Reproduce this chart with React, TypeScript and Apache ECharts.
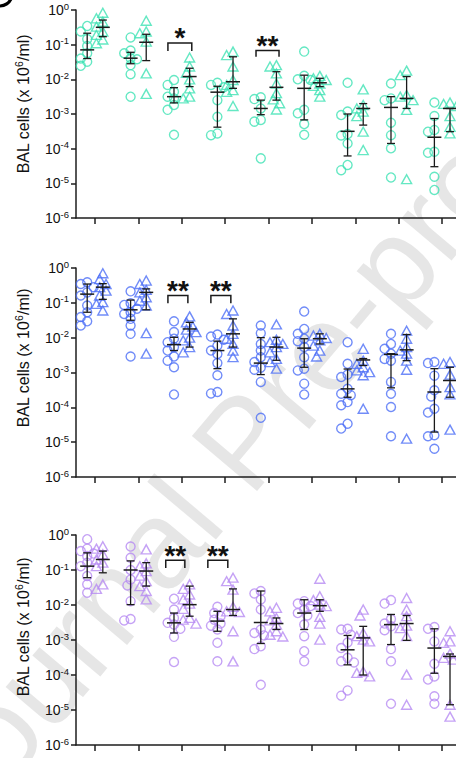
import { useEffect, useRef } from "react";
import * as echarts from "echarts";

// ---------- data (log10 of BAL cells x10^6/ml), 18 columns: [circle, triangle] for each of 9 groups ----------
const groupTicks = [1, 2, 3, 4, 5, 6, 7, 8, 9];
const yExponents = [-6, -5, -4, -3, -2, -1, 0];

const tealLog10: number[][] = [
  [-0.46, -0.62, -0.84, -1.04, -1.25, -1.4, -1.49, -1.61],
  [-0.08, -0.24, -0.34, -0.48, -0.62, -0.72, -0.85, -0.96],
  [-0.79, -1.17, -1.25, -1.39, -1.42, -1.59, -1.85, -2.5],
  [-0.31, -0.62, -0.67, -0.91, -1.83, -2.42],
  [-2.02, -2.16, -2.36, -2.5, -2.55, -2.74, -2.88, -3.6],
  [-1.37, -1.63, -1.81, -2.0, -2.26, -2.5, -2.55],
  [-2.1, -2.16, -2.23, -2.6, -3.08, -3.56, -3.61],
  [-1.2, -1.3, -1.63, -2.02, -2.16, -2.31, -2.36, -2.77],
  [-2.52, -2.57, -2.84, -3.17, -3.22, -4.28],
  [-1.59, -1.63, -1.83, -2.12, -2.4, -2.58, -2.69, -2.87],
  [-1.2, -1.9, -2.0, -2.02, -2.88, -2.98, -3.29, -3.6],
  [-1.9, -1.97, -2.02, -2.12, -2.19, -2.31, -2.5],
  [-2.1, -2.93, -3.03, -3.58, -3.62, -3.85, -4.47, -4.62],
  [-2.29, -2.74, -2.84, -2.93, -3.06, -3.51, -4.04],
  [-2.12, -2.55, -2.6, -3.25, -3.61, -3.99, -4.83],
  [-1.75, -1.88, -2.45, -2.5, -2.6, -2.88, -4.88],
  [-2.67, -3.06, -3.46, -3.51, -4.09, -4.12, -4.81, -5.19],
  [-2.67, -2.71, -2.77, -3.06, -3.37, -3.56],
];
// [median, low, high]
const tealStats: number[][] = [
  [-1.15, -1.4, -0.67], [-0.5, -0.77, -0.29], [-1.39, -1.55, -1.22], [-0.93, -1.46, -0.7],
  [-2.5, -2.68, -2.24], [-1.92, -2.21, -1.68], [-2.37, -3.38, -2.2], [-2.07, -2.26, -1.35],
  [-2.84, -3.02, -2.6], [-2.23, -2.6, -1.78], [-2.26, -3.17, -1.88], [-2.1, -2.21, -1.97],
  [-3.5, -4.21, -3.0], [-2.84, -3.32, -2.7], [-2.81, -3.85, -2.5], [-2.55, -2.84, -1.92],
  [-3.67, -4.52, -3.13], [-2.84, -3.51, -2.84],
];

const blueLog10: number[][] = [
  [-0.41, -0.46, -0.55, -0.7, -0.79, -1.08, -1.27, -1.41, -1.53, -1.65],
  [-0.15, -0.32, -0.46, -0.55, -0.65, -0.79, -0.98, -1.03, -1.22],
  [-0.67, -1.01, -1.06, -1.17, -1.27, -1.32, -1.46, -1.65, -1.89, -2.54],
  [-0.36, -0.46, -0.63, -0.7, -0.84, -0.94, -1.08, -1.87, -2.46],
  [-1.53, -1.84, -2.03, -2.13, -2.27, -2.37, -2.54, -2.66, -2.85, -3.63],
  [-1.39, -1.56, -1.68, -1.77, -1.84, -2.0, -2.08, -2.27, -2.42],
  [-1.91, -1.97, -2.06, -2.23, -2.37, -2.47, -2.73, -3.08, -3.56, -3.6],
  [-1.22, -1.32, -1.65, -1.89, -2.03, -2.18, -2.37, -2.56],
  [-1.65, -1.87, -2.18, -2.37, -2.56, -2.7, -2.86, -2.92, -3.27, -4.3],
  [-1.62, -2.06, -2.13, -2.18, -2.27, -2.42, -2.61, -2.7, -2.89],
  [-1.25, -1.75, -1.89, -2.03, -2.1, -2.27, -2.56, -2.89, -2.94, -3.32, -3.63],
  [-1.89, -1.94, -2.01, -2.08, -2.23, -2.37, -2.54],
  [-2.13, -2.75, -3.06, -3.13, -3.47, -3.61, -3.65, -3.85, -3.94, -4.47, -4.61],
  [-2.32, -2.66, -2.75, -2.85, -2.94, -2.99, -3.08, -4.04],
  [-1.89, -2.18, -2.32, -2.46, -2.61, -2.66, -3.27, -3.61, -3.99, -4.83],
  [-1.8, -2.03, -2.27, -2.37, -2.46, -2.66, -2.92, -4.9],
  [-2.7, -2.73, -3.09, -3.51, -3.69, -4.04, -4.15, -4.8, -4.83, -5.19],
  [-2.7, -2.75, -3.06, -3.42, -3.63, -4.64],
];
const blueStats: number[][] = [
  [-0.75, -1.27, -0.46], [-0.55, -0.9, -0.45], [-1.2, -1.5, -0.92], [-0.7, -1.2, -0.6],
  [-2.2, -2.37, -1.99], [-1.75, -2.27, -1.56], [-2.37, -2.89, -2.1], [-1.89, -2.27, -1.46],
  [-2.73, -3.06, -2.0], [-2.27, -2.65, -1.99], [-2.3, -2.85, -2.03], [-2.03, -2.18, -1.89],
  [-3.47, -3.71, -2.9], [-2.64, -2.8, -2.6], [-2.48, -3.44, -2.46], [-2.35, -2.66, -1.91],
  [-3.56, -4.71, -2.89], [-3.23, -3.71, -2.85],
];

const purpleLog10: number[][] = [
  [-0.12, -0.39, -0.46, -0.53, -0.6, -0.79, -0.89, -1.17, -1.41, -1.65],
  [-0.32, -0.39, -0.55, -0.7, -0.79, -0.89, -1.41, -1.54],
  [-0.33, -0.65, -1.0, -1.27, -1.44, -1.89, -2.4, -2.44],
  [-0.41, -0.81, -0.89, -1.03, -1.16, -1.32, -1.46, -1.6, -1.84],
  [-1.82, -2.13, -2.37, -2.51, -2.56, -2.68, -2.91, -3.63],
  [-1.41, -1.54, -1.7, -1.84, -1.96, -2.11, -2.37, -2.42, -2.53],
  [-2.05, -2.23, -2.32, -2.42, -2.53, -2.59, -2.7, -3.08, -3.61],
  [-1.22, -1.32, -1.56, -2.05, -2.18, -2.2, -2.75, -3.61],
  [-1.6, -1.67, -1.84, -2.13, -2.7, -2.8, -2.87, -3.18, -3.26, -4.28],
  [-2.08, -2.18, -2.37, -2.44, -2.56, -2.75, -2.85, -2.9],
  [-1.89, -1.96, -2.03, -2.13, -2.23, -2.3, -2.56, -2.89, -3.32, -3.61],
  [-1.25, -1.75, -1.86, -1.99, -2.03, -2.34, -2.53, -2.99],
  [-2.68, -2.7, -2.85, -3.07, -3.23, -3.51, -3.61, -3.64, -4.44, -4.59],
  [-2.13, -2.3, -2.8, -2.89, -2.99, -3.04, -3.9, -3.94, -4.04],
  [-1.86, -1.96, -2.4, -2.53, -2.61, -2.72, -3.26, -3.61, -4.82],
  [-1.8, -2.13, -2.32, -2.59, -2.66, -2.89, -3.99, -4.85],
  [-2.63, -2.68, -3.04, -3.68, -4.04, -4.13, -4.61, -4.82],
  [-2.75, -3.04, -3.08, -3.39, -3.51, -3.56, -4.85, -5.19],
];
const purpleStats: number[][] = [
  [-0.89, -1.22, -0.51], [-0.7, -1.08, -0.46], [-1.0, -1.99, -0.74], [-1.03, -1.46, -0.79],
  [-2.51, -2.8, -2.23], [-1.99, -2.32, -1.46], [-2.46, -2.75, -2.18], [-2.13, -2.3, -1.54],
  [-2.5, -3.1, -1.6], [-2.53, -2.7, -2.37], [-2.23, -2.7, -1.85], [-2.02, -2.18, -1.85],
  [-3.28, -3.71, -2.87], [-2.94, -4.0, -2.61], [-2.56, -3.13, -2.27], [-2.53, -3.01, -2.3],
  [-3.23, -3.95, -2.68], [-3.47, -4.85, -3.4],
];

// significance brackets: [xLeft, xRight, top(log10), legBottom(log10)]
const tealBrackets: number[][] = [[2.68, 3.23, -0.95, -1.18], [4.71, 5.24, -1.17, -1.35]];
const tealBracketLabels = ["*", "**"];
const blueBrackets: number[][] = [[2.68, 3.14, -0.79, -1.01], [3.67, 4.13, -0.79, -1.01]];
const blueBracketLabels = ["**", "**"];
const purpleBrackets: number[][] = [[2.63, 3.07, -0.72, -0.94], [3.6, 4.06, -0.72, -0.94]];
const purpleBracketLabels = ["**", "**"];

// ---------- layout / style ----------
const FONT = '"Liberation Sans", Arial, Helvetica, sans-serif';
const X_MIN = 0.562;
const X_MAX = 9.318;
const GRID_LEFT = 76;
const GRID_W = 380;
const PANELS = [
  { top: 10, height: 208, color: "#3ee2b4", log: tealLog10, stats: tealStats, br: tealBrackets, brl: tealBracketLabels, titleY: 104 },
  { top: 268, height: 209, color: "#4e6ff6", log: blueLog10, stats: blueStats, br: blueBrackets, brl: blueBracketLabels, titleY: 358 },
  { top: 535, height: 210, color: "#b68bf3", log: purpleLog10, stats: purpleStats, br: purpleBrackets, brl: purpleBracketLabels, titleY: 627 },
];
const AXIS_COLOR = "#1e1e1e";
const BAR_COLOR = "#1a1a1a";

function swarm(vals: number[], center: number, pxPerDecade: number): number[][] {
  const pxPerX = GRID_W / (X_MAX - X_MIN);
  const placed: { x: number; y: number }[] = [];
  const out: number[][] = [];
  const order = vals.map((_, i) => i).sort((a, b) => vals[b] - vals[a]);
  for (const i of order) {
    const y = -vals[i] * pxPerDecade;
    let best = 0;
    let bestD = -1;
    for (const k of [0, -1, 1, -2, 2]) {
      const dx = k * 3.2;
      let md = Infinity;
      for (const p of placed) md = Math.min(md, Math.hypot(p.x - dx, p.y - y));
      if (md >= 6.5) { best = dx; bestD = md; break; }
      if (md > bestD) { bestD = md; best = dx; }
    }
    placed.push({ x: best, y });
    out.push([center + best / pxPerX, vals[i]]);
  }
  return out;
}

function columnCenter(col: number): number {
  const g = Math.floor(col / 2);
  return groupTicks[g] + (col % 2 === 0 ? -0.18 : 0.18);
}

function buildOption(): any {
  const grid: any[] = [];
  const xAxis: any[] = [];
  const yAxis: any[] = [];
  const series: any[] = [];
  const graphic: any[] = [];

  PANELS.forEach((p, pi) => {
    grid.push({ left: GRID_LEFT, top: p.top, width: GRID_W, height: p.height });
    xAxis.push({
      type: "value", gridIndex: pi, min: X_MIN, max: X_MAX,
      axisLine: { show: true, onZero: false, lineStyle: { color: AXIS_COLOR, width: 1.5 } },
      axisTick: { show: true, customValues: groupTicks, length: 6, lineStyle: { color: AXIS_COLOR, width: 1.5 } },
      axisLabel: { show: false },
      splitLine: { show: false },
    });
    yAxis.push({
      type: "value", gridIndex: pi, min: -6, max: 0, interval: 1,
      axisLine: { show: true, lineStyle: { color: AXIS_COLOR, width: 1.5 } },
      axisTick: { show: true, length: 5, lineStyle: { color: AXIS_COLOR, width: 1.5 } },
      axisLabel: {
        margin: 7,
        formatter: (v: number) => (yExponents.includes(v) ? `{b|10}{s|${v}}` : ""),
        rich: {
          b: { fontFamily: FONT, fontSize: 14, color: "#111", lineHeight: 18 },
          s: { fontFamily: FONT, fontSize: 9.5, color: "#111", lineHeight: 9, verticalAlign: "top" },
        },
      },
      splitLine: { show: false },
    });

    const pxPerDecade = p.height / 6;
    const circles: number[][] = [];
    const triangles: number[][] = [];
    p.log.forEach((vals, col) => {
      const pts = swarm(vals, columnCenter(col), pxPerDecade);
      if (col % 2 === 0) circles.push(...pts);
      else triangles.push(...pts);
    });
    const markerStyle = { color: "rgba(255,255,255,0)", borderColor: p.color, borderWidth: 1.4 };
    series.push({
      type: "scatter", xAxisIndex: pi, yAxisIndex: pi, symbol: "circle", symbolSize: 9,
      itemStyle: markerStyle, data: circles, z: 3, clip: false,
    });
    series.push({
      type: "scatter", xAxisIndex: pi, yAxisIndex: pi, symbol: "triangle", symbolSize: [10, 9],
      itemStyle: markerStyle, data: triangles, z: 3, clip: false,
    });

    const statData = p.stats.map((s, col) => [columnCenter(col), s[0], s[1], s[2]]);
    series.push({
      type: "custom", xAxisIndex: pi, yAxisIndex: pi, z: 5, clip: false,
      encode: { x: 0, y: [1, 2, 3] },
      data: statData,
      renderItem: (_params: any, api: any) => {
        const x = api.value(0);
        const pm = api.coord([x, api.value(1)]);
        const pl = api.coord([x, api.value(2)]);
        const ph = api.coord([x, api.value(3)]);
        const st = { stroke: BAR_COLOR, lineWidth: 1.3, fill: null };
        const cx = pm[0];
        return {
          type: "group",
          children: [
            { type: "line", shape: { x1: cx, y1: ph[1], x2: cx, y2: pl[1] }, style: st },
            { type: "line", shape: { x1: cx - 4, y1: ph[1], x2: cx + 4, y2: ph[1] }, style: st },
            { type: "line", shape: { x1: cx - 4, y1: pl[1], x2: cx + 4, y2: pl[1] }, style: st },
            { type: "line", shape: { x1: cx - 7, y1: pm[1], x2: cx + 7, y2: pm[1] }, style: { ...st, lineWidth: 1.5 } },
          ],
        };
      },
    });

    series.push({
      type: "custom", xAxisIndex: pi, yAxisIndex: pi, z: 6, clip: false,
      encode: { x: [0, 1], y: [2, 3] },
      data: p.br,
      renderItem: (params: any, api: any) => {
        const a = api.coord([api.value(0), api.value(2)]);
        const b = api.coord([api.value(1), api.value(2)]);
        const bl = api.coord([api.value(0), api.value(3)]);
        const label = p.brl[params.dataIndex];
        return {
          type: "group",
          children: [
            {
              type: "polyline",
              shape: { points: [[a[0], bl[1]], [a[0], a[1]], [b[0], a[1]], [b[0], bl[1]]] },
              style: { stroke: BAR_COLOR, lineWidth: 1.5, fill: null },
            },
            {
              type: "text",
              style: {
                text: label, x: (a[0] + b[0]) / 2, y: a[1] - 5,
                align: "center", verticalAlign: "middle", textAlign: "center", textVerticalAlign: "middle",
                font: `bold 28px ${FONT}`, fill: "#111",
              },
            },
          ],
        };
      },
    });

    graphic.push({
      type: "text", x: 23, y: p.titleY, rotation: Math.PI / 2, z: 10,
      style: {
        text: "{t|BAL cells (x 10}{s|6}{t|/ml)}",
        align: "center", verticalAlign: "middle", textAlign: "center", textVerticalAlign: "middle",
        rich: {
          t: { fontFamily: FONT, fontSize: 16, fill: "#111", color: "#111", lineHeight: 20 },
          s: { fontFamily: FONT, fontSize: 10.5, fill: "#111", color: "#111", lineHeight: 10, verticalAlign: "top" },
        },
      },
    });
  });

  graphic.unshift({
    type: "text", x: 242, y: 442, rotation: 0.87, z: -10, zlevel: 0, silent: true,
    style: {
      text: "Journal Pre-proof",
      align: "center", verticalAlign: "middle", textAlign: "center", textVerticalAlign: "middle",
      font: `124px ${FONT}`, fill: "rgba(160,160,160,0.26)",
    },
  });
  graphic.push({
    type: "arc", z: 10,
    shape: { cx: 0, cy: -6, r: 12, startAngle: 0.25, endAngle: Math.PI },
    style: { stroke: "#000", lineWidth: 3.2, fill: null },
  });

  return { animation: false, backgroundColor: "#fff", grid, xAxis, yAxis, series, graphic };
}

export default function App() {
  const ref = useRef<HTMLDivElement>(null);
  useEffect(() => {
    if (!ref.current) return;
    const chart = echarts.init(ref.current, undefined, { renderer: "svg" });
    chart.setOption(buildOption());
    return () => chart.dispose();
  }, []);
  return <div ref={ref} style={{ width: 456, height: 758, position: "absolute", left: 0, top: 0 }} />;
}
